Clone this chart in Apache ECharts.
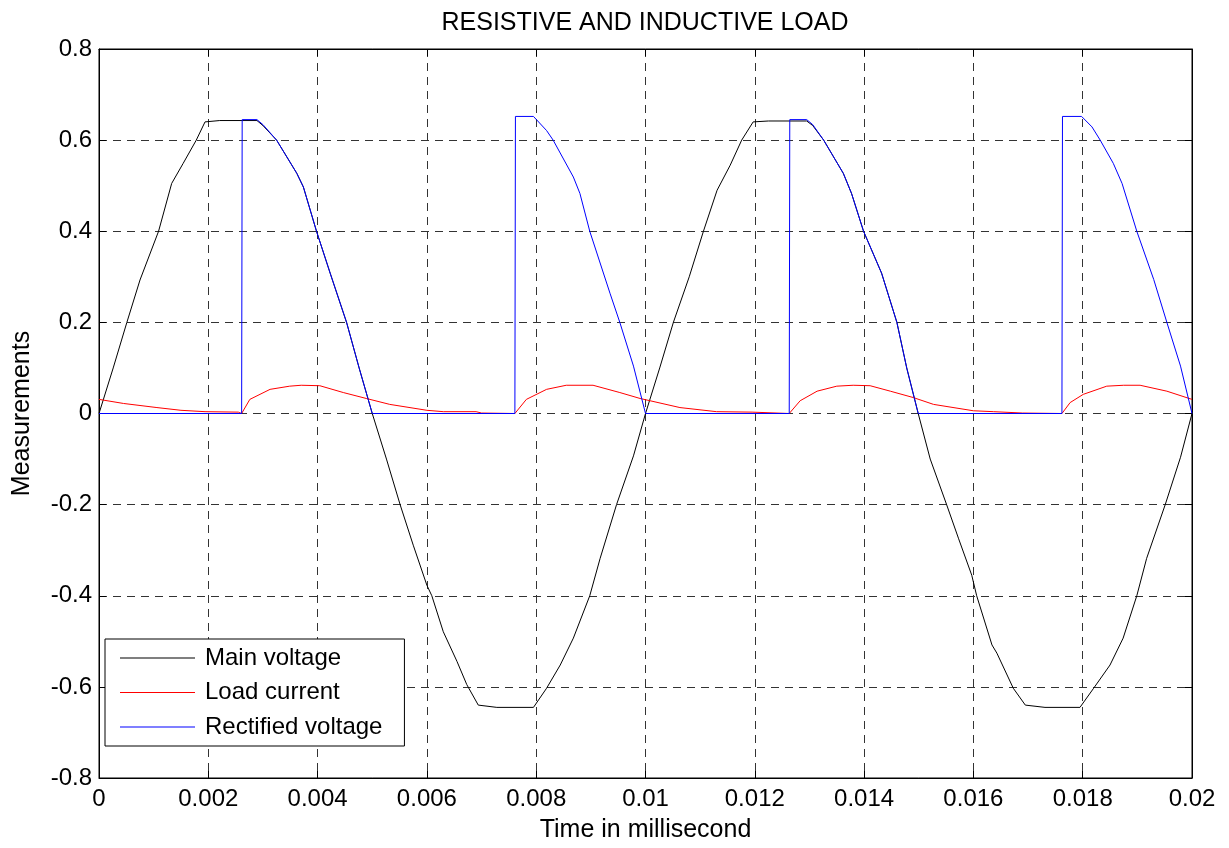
<!DOCTYPE html>
<html>
<head>
<meta charset="utf-8">
<title>Resistive and inductive load</title>
<script src="https://cdn.jsdelivr.net/npm/echarts@6/dist/echarts.min.js"></script>
<style>
  html, body { margin: 0; padding: 0; background: #fff; }
  #main { width: 1229px; height: 848px; }
</style>
</head>
<body>
<div id="main"></div>
<script>
// values: [time, value]
const mainVoltage = [
  [0, 0], [0.00026, 0.10], [0.00051, 0.20], [0.00075, 0.293], [0.00109, 0.40],
  [0.00133, 0.505], [0.00154, 0.549], [0.00178, 0.60], [0.00194, 0.64], [0.00221, 0.643],
  [0.00289, 0.643], [0.0030, 0.632], [0.00325, 0.60], [0.00362, 0.527], [0.00374, 0.497],
  [0.00398, 0.40], [0.00423, 0.308], [0.00453, 0.20], [0.00476, 0.10], [0.005, 0],
  [0.00526, -0.10], [0.00551, -0.20], [0.00575, -0.289], [0.006, -0.377], [0.00609, -0.40],
  [0.0063, -0.479], [0.00655, -0.544], [0.00673, -0.595], [0.00694, -0.640], [0.00728, -0.645],
  [0.00795, -0.645], [0.00819, -0.603], [0.00844, -0.552], [0.00868, -0.493], [0.00898, -0.40],
  [0.00917, -0.318], [0.00947, -0.20], [0.00978, -0.093], [0.01, 0],
  [0.01026, 0.10], [0.01051, 0.20], [0.0108, 0.30], [0.01106, 0.40], [0.01131, 0.49],
  [0.01155, 0.545], [0.01176, 0.60], [0.01197, 0.64], [0.01225, 0.642], [0.01295, 0.642],
  [0.01306, 0.632], [0.01326, 0.60], [0.01362, 0.527], [0.01377, 0.483], [0.01399, 0.40],
  [0.01432, 0.308], [0.0146, 0.20], [0.01478, 0.10], [0.01499, 0],
  [0.01521, -0.10], [0.01551, -0.20], [0.01573, -0.275], [0.01597, -0.355], [0.01606, -0.40],
  [0.01634, -0.508], [0.01643, -0.526], [0.01673, -0.603], [0.01695, -0.640], [0.01731, -0.645],
  [0.01795, -0.645], [0.0182, -0.603], [0.0185, -0.552], [0.01874, -0.493], [0.01899, -0.40],
  [0.01917, -0.318], [0.01951, -0.20], [0.01979, -0.096], [0.02, 0]
]

const loadCurrent = [
  [0, 0.031], [0.00045, 0.022], [0.00106, 0.013], [0.0015, 0.007], [0.00194, 0.004],
  [0.00255, 0.003], [0.00261, 0], [0.00276, 0.031], [0.00313, 0.053], [0.00349, 0.06],
  [0.0037, 0.062], [0.00404, 0.061], [0.00447, 0.046], [0.00489, 0.033], [0.00532, 0.02],
  [0.006, 0.007], [0.0063, 0.004], [0.0069, 0.004], [0.0070, 0.001], [0.00761, 0],
  [0.00782, 0.031], [0.00819, 0.053], [0.00855, 0.062], [0.00904, 0.062], [0.00953, 0.046],
  [0.0099, 0.033], [0.01063, 0.013], [0.0113, 0.004], [0.01195, 0.003], [0.01263, 0],
  [0.01283, 0.028], [0.01314, 0.049], [0.0135, 0.06], [0.0138, 0.062], [0.01411, 0.061],
  [0.01448, 0.049], [0.0149, 0.035], [0.01527, 0.020], [0.016, 0.006], [0.01637, 0.004],
  [0.0169, 0.001], [0.01762, 0], [0.01777, 0.024], [0.01801, 0.042], [0.01844, 0.06],
  [0.01875, 0.062], [0.01905, 0.062], [0.01954, 0.049], [0.02, 0.031]
]

const rectifiedVoltage = [
  [0, 0], [0.00261, 0], [0.00262, 0.645], [0.00289, 0.645], [0.0030, 0.634],
  [0.00325, 0.60], [0.00362, 0.527], [0.00374, 0.497], [0.00398, 0.40], [0.00423, 0.308],
  [0.00453, 0.20], [0.00476, 0.10], [0.005, 0], [0.00761, 0], [0.00762, 0.652],
  [0.00795, 0.652], [0.00819, 0.621], [0.00831, 0.60], [0.00868, 0.519], [0.0088, 0.483],
  [0.00898, 0.40], [0.00935, 0.264], [0.00953, 0.20], [0.00978, 0.104], [0.01, 0],
  [0.01263, 0], [0.01264, 0.645], [0.01295, 0.645], [0.01306, 0.634], [0.01326, 0.60],
  [0.01362, 0.527], [0.01377, 0.483], [0.01399, 0.40], [0.01432, 0.308], [0.0146, 0.20],
  [0.01478, 0.10], [0.01499, 0], [0.01762, 0], [0.01763, 0.652], [0.01798, 0.652],
  [0.01817, 0.629], [0.01832, 0.60], [0.01856, 0.549], [0.01872, 0.505], [0.01899, 0.40],
  [0.0193, 0.294], [0.01954, 0.20], [0.01979, 0.104], [0.02, 0]
]

const seriesNames = ['Main voltage', 'Load current', 'Rectified voltage']
const seriesColors = ['#000000', '#ff0000', '#0000ff']

const chart = echarts.init(document.getElementById('main'))
const font = "'Liberation Sans', Arial, Helvetica, sans-serif"

// 刻度向内，四周都画（像 MATLAB 的坐标框）
const tickIn = { show: true, inside: true, length: 7, lineStyle: { color: '#000' } }
const boxLine = { show: true, onZero: false, lineStyle: { color: '#000' } }

const option = {
  animation: false,
  backgroundColor: '#fff',
  textStyle: { fontFamily: font, color: '#000' },
  title: {
    text: 'RESISTIVE AND INDUCTIVE LOAD',
    left: 645,
    textAlign: 'center',
    top: 11,
    padding: 0,
    textStyle: { fontSize: 25, fontWeight: 'normal', color: '#000', fontFamily: font }
  },
  grid: {
    left: 99,
    right: 37,
    top: 49,
    bottom: 67,
    show: true,
    borderColor: '#000',
    borderWidth: 1
  },
  legend: {
    left: 105,
    top: 639,
    orient: 'vertical',
    icon: 'rect',
    itemWidth: 75,
    itemHeight: 1,
    itemGap: 10.5,
    padding: [7, 22, 7, 15],
    backgroundColor: '#fff',
    borderColor: '#000',
    borderWidth: 1,
    borderRadius: 0,
    data: seriesNames,
    textStyle: { fontSize: 24, color: '#000', fontFamily: font, padding: [0, 0, 0, 5] }
  },
  xAxis: [
    {
      type: 'value',
      min: 0,
      max: 0.02,
      interval: 0.002,
      name: 'Time in millisecond',
      nameLocation: 'middle',
      nameGap: 40,
      nameTextStyle: { fontSize: 25, color: '#000', fontFamily: font },
      axisLine: boxLine,
      axisTick: tickIn,
      axisLabel: {
        margin: 9,
        fontSize: 24,
        color: '#000',
        fontFamily: font,
        formatter: (v) => String(+v.toFixed(3))
      },
      splitLine: { show: true, lineStyle: { color: '#333', type: [8, 6], width: 1 } }
    },
    {
      type: 'value',
      position: 'top',
      min: 0,
      max: 0.02,
      interval: 0.002,
      axisLine: boxLine,
      axisTick: tickIn,
      axisLabel: { show: false },
      splitLine: { show: false }
    }
  ],
  yAxis: [
    {
      type: 'value',
      min: -0.8,
      max: 0.8,
      interval: 0.2,
      name: 'Measurements',
      nameLocation: 'middle',
      nameGap: 64,
      nameTextStyle: { fontSize: 25, color: '#000', fontFamily: font },
      axisLine: boxLine,
      axisTick: tickIn,
      axisLabel: {
        margin: 7,
        fontSize: 24,
        color: '#000',
        fontFamily: font,
        formatter: (v) => String(+v.toFixed(1))
      },
      splitLine: { show: true, lineStyle: { color: '#333', type: [8, 6], width: 1 } }
    },
    {
      type: 'value',
      position: 'right',
      min: -0.8,
      max: 0.8,
      interval: 0.2,
      axisLine: boxLine,
      axisTick: tickIn,
      axisLabel: { show: false },
      splitLine: { show: false }
    }
  ],
  series: [mainVoltage, loadCurrent, rectifiedVoltage].map((data, i) => ({
    name: seriesNames[i],
    type: 'line',
    xAxisIndex: 0,
    yAxisIndex: 0,
    data,
    symbol: 'none',
    color: seriesColors[i],
    lineStyle: { width: 1, color: seriesColors[i] }
  }))
}

chart.setOption(option)
</script>
</body>
</html>
